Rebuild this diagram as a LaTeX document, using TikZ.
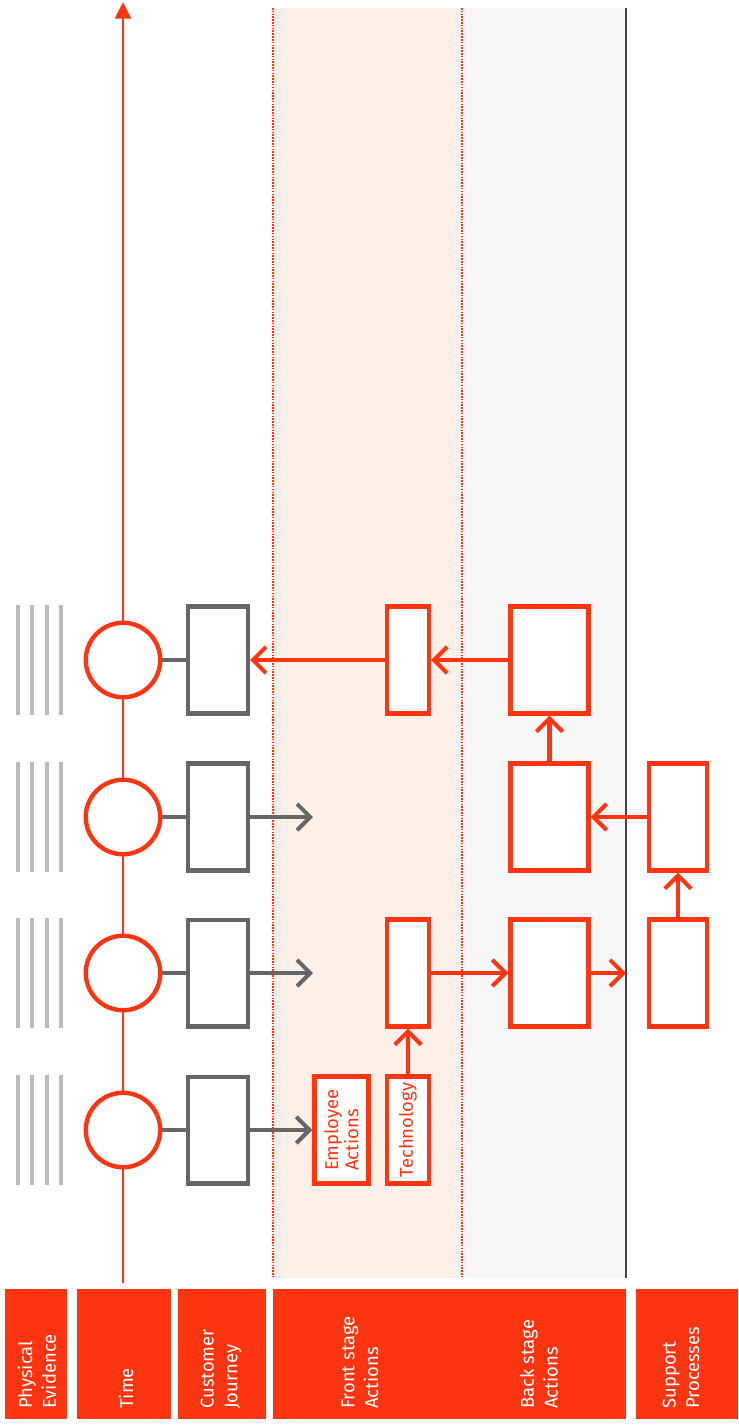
\documentclass[tikz,border=0pt]{standalone}
\usepackage{fontspec}
\setmainfont{Fira Sans}
\usetikzlibrary{arrows.meta,positioning}
\definecolor{bpred}{HTML}{FF3410}
\definecolor{bpgrey}{HTML}{666666}
\definecolor{bplight}{HTML}{BBBBBB}
\definecolor{bppeach}{HTML}{FDF0E9}
\definecolor{bpback}{HTML}{F7F7F7}
\definecolor{bpline}{HTML}{444444}

\begin{document}
\begin{tikzpicture}[
x=0.02cm, y=-0.02cm,
header/.style={fill=bpred, draw=none},
headtext/.style={
		rotate=90,
		anchor=west,
		align=left,
		inner sep=0pt,
		text=white,
		font=\fontsize{10.5}{13.5}\selectfont,
		},
moment/.style={circle, draw=bpred, line width=2.5pt, fill=white, minimum size=1.49cm, inner sep=0pt},
journey/.style={rectangle, draw=bpgrey, line width=2.3pt, fill=white, minimum width=1.2cm, minimum height=2.14cm, inner sep=0pt},
action/.style={rectangle, draw=bpred, line width=2.5pt, fill=white, minimum height=2.14cm, inner sep=0pt},
boxtext/.style={rotate=90, align=left, inner sep=0pt, text=bpred, font=\fontsize{10.5}{11.5}\selectfont},
evidence/.style={draw=bplight, line width=2.3pt},
link/.style={draw=bpred, line width=2.3pt, -{Straight Barb[length=7.5pt,width=15pt]}},
glink/.style={draw=bpgrey, line width=2.3pt, -{Straight Barb[length=7.5pt,width=15pt]}},
]

\def \top {8}
\def \bottom {1278}
\def \half {55}

% lanes
\fill[bppeach] (273,\top) rectangle (462,\bottom);
\fill[bpback] (462,\top) rectangle (626,\bottom);
\draw[bpred, line width=1.1pt, dash pattern=on 0.9pt off 0.7pt] (273,\top) -- (273,\bottom);
\draw[bpred, line width=1.1pt, dash pattern=on 0.9pt off 0.7pt] (462,\top) -- (462,\bottom);
\draw[bpline, line width=1.2pt] (626,\top) -- (626,\bottom);

% time axis
\coordinate (tstart) at (123,1283);
\coordinate (tend) at (123,2);
\draw[bpred, line width=1.4pt, -{Triangle[length=9.5pt,width=9pt]}] (tstart) -- (tend);

% steps
\foreach \r/\yy in {1/660,2/817,3/973,4/1130}
{
  \foreach \xx in {18,32,47,61}
    \draw[evidence] (\xx,\yy-\half) -- (\xx,\yy+\half);
  \node[moment] (t\r) at (123,\yy) {};
  \node[journey] (cj\r) at (218,\yy) {};
  \draw[bpgrey, line width=2.3pt] (t\r) -- (cj\r);
}

% actions
\node[action, minimum width=0.84cm] (front1) at (408,660) {};
\node[action, minimum width=1.56cm] (back1) at (549.5,660) {};
\node[action, minimum width=1.56cm] (back2) at (549.5,817) {};
\node[action, minimum width=1.16cm] (sup2) at (678,817) {};
\node[action, minimum width=0.84cm] (front3) at (408,973) {};
\node[action, minimum width=1.56cm] (back3) at (549.5,973) {};
\node[action, minimum width=1.16cm] (sup3) at (678,973) {};
\node[action, minimum width=1.08cm] (emp) at (341.5,1130) {};
\node[action, minimum width=0.84cm] (tech) at (408,1130) {};
\node[boxtext] (emptext) at (emp.center) {Employee\\Actions};
\node[boxtext] (techtext) at (tech.center) {Technology};

\coordinate (g2) at (313,817);
\coordinate (g3) at (313,973);
\coordinate (s3) at (626,973);

\draw[glink] (cj2.east) -- (g2);
\draw[glink] (cj3.east) -- (g3);
\draw[glink] (cj4.east) -- (emp.west);

\draw[link] (back1.west) -- (front1.east);
\draw[link] (front1.west) -- (cj1.east);
\draw[link] (back2.north) -- (back1.south);
\draw[link] (sup2.west) -- (back2.east);
\draw[link] (front3.east) -- (back3.west);
\draw[link] (back3.east) -- (s3);
\draw[link] (sup3.north) -- (sup2.south);
\draw[link] (tech.north) -- (front3.south);

% headers
\fill[header] (5,1289) rectangle (67,1419);
\fill[header] (77,1289) rectangle (171,1419);
\fill[header] (178,1289) rectangle (266,1419);
\fill[header] (273,1289) rectangle (626,1419);
\fill[header] (636,1289) rectangle (738,1419);

\node[headtext] (hpe) at (37,1409) {Physical\\Evidence};
\node[headtext] (htime) at (126,1409) {Time};
\node[headtext] (hcj) at (221,1409) {Customer\\Journey};
\node[headtext] (hfront) at (360,1409) {Front stage\\Actions};
\node[headtext] (hback) at (539,1409) {Back stage\\Actions};
\node[headtext] (hsup) at (681,1409) {Support\\Processes};

\useasboundingbox (0,0) rectangle (738,1426);
\end{tikzpicture}
\end{document}
